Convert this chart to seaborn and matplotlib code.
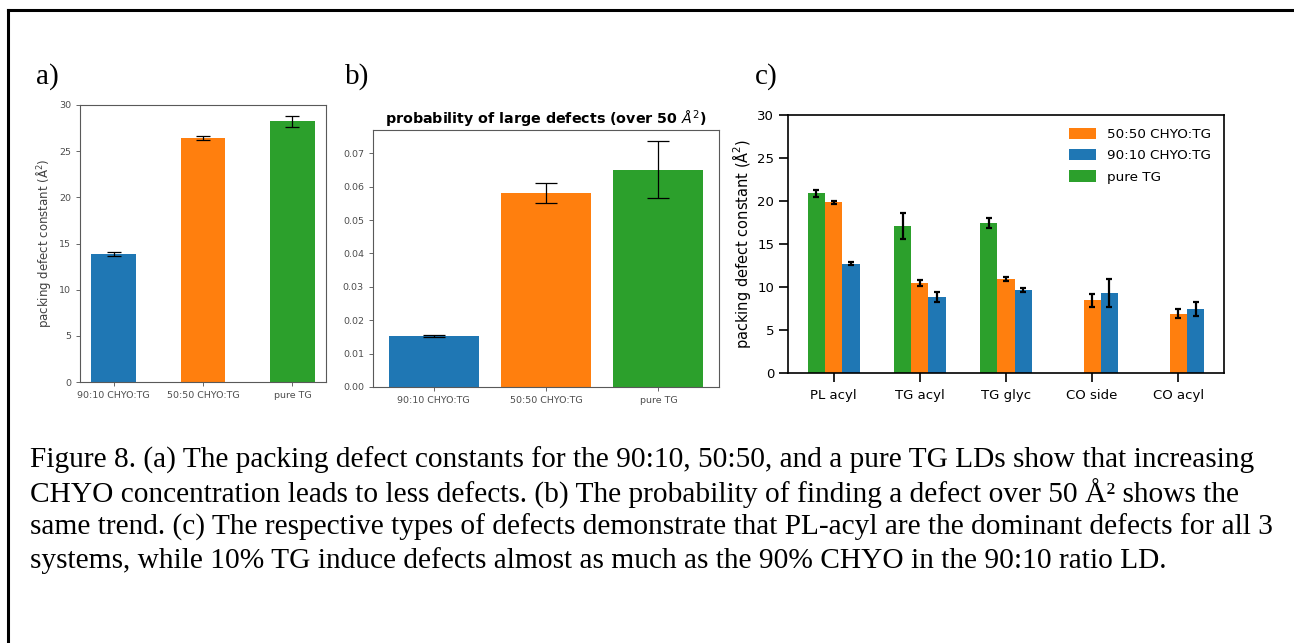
import numpy as np
import pandas as pd
import matplotlib
matplotlib.use("Agg")
import matplotlib.pyplot as plt
from matplotlib.lines import Line2D
import seaborn as sns

# ---------------- data ----------------
samples = ["90:10 CHYO:TG", "50:50 CHYO:TG", "pure TG"]
sample_colors = ["#1f77b4", "#ff7f0e", "#2ca02c"]

a_values = [13.85, 26.43, 28.22]
a_errors = [0.22, 0.22, 0.63]

b_values = [0.0153, 0.0580, 0.0651]
b_errors = [0.0003, 0.0030, 0.0085]

defect_types = ["PL acyl", "TG acyl", "TG glyc", "CO side", "CO acyl"]
pure_tg = [20.88, 17.07, 17.46, np.nan, np.nan]
pure_tg_err = [0.45, 1.50, 0.60, np.nan, np.nan]
ratio_5050 = [19.83, 10.52, 10.94, 8.46, 6.91]
ratio_5050_err = [0.20, 0.35, 0.25, 0.75, 0.50]
ratio_9010 = [12.73, 8.85, 9.62, 9.27, 7.41]
ratio_9010_err = [0.20, 0.55, 0.25, 1.65, 0.80]

c_hue_order = ["pure TG", "50:50 CHYO:TG", "90:10 CHYO:TG"]
c_colors = {"pure TG": "#2ca02c", "50:50 CHYO:TG": "#ff7f0e", "90:10 CHYO:TG": "#1f77b4"}
legend_order = ["50:50 CHYO:TG", "90:10 CHYO:TG", "pure TG"]

caption_lines = [
    "Figure 8. (a) The packing defect constants for the 90:10, 50:50, and a pure TG LDs show that increasing",
    "CHYO concentration leads to less defects. (b) The probability of finding a defect over 50 \u00c5\u00b2 shows the",
    "same trend. (c) The respective types of defects demonstrate that PL-acyl are the dominant defects for all 3",
    "systems, while 10% TG induce defects almost as much as the 90% CHYO in the 90:10 ratio LD.",
]

# ---------------- figure ----------------
W, H = 1294, 643
fig = plt.figure(figsize=(W / 100, H / 100), dpi=100)


def rect(x0, y0, x1, y1):
    return [x0 / W, 1 - y1 / H, (x1 - x0) / W, (y1 - y0) / H]


gray = "0.3"


def style_small(ax):
    for s in ax.spines.values():
        s.set_color("0.35")
        s.set_linewidth(0.8)
    ax.tick_params(colors=gray, labelsize=6.8, length=3, width=0.6)


# ---- panel a ----
ax_a = fig.add_axes(rect(80, 105, 326, 382))
df_a = pd.DataFrame({"sample": samples, "value": a_values})
sns.barplot(data=df_a, x="sample", y="value", hue="sample", palette=sample_colors,
            order=samples, hue_order=samples, legend=False, width=0.5,
            saturation=1, errorbar=None, ax=ax_a)
for cont, err in zip(ax_a.containers, a_errors):
    for bar in cont:
        ax_a.errorbar(bar.get_x() + bar.get_width() / 2, bar.get_height(), yerr=err,
                      fmt="none", ecolor="black", elinewidth=0.9, capsize=5, capthick=0.9)
ax_a.set_ylim(0, 30)
ax_a.set_yticks(np.arange(0, 31, 5))
ax_a.set_xlabel("")
ax_a.set_ylabel("packing defect constant (\u00c5$^2$)", fontsize=8.5, color="0.25")
style_small(ax_a)

# ---- panel b ----
ax_b = fig.add_axes(rect(373, 130, 719, 387))
df_b = pd.DataFrame({"sample": samples, "value": b_values})
sns.barplot(data=df_b, x="sample", y="value", hue="sample", palette=sample_colors,
            order=samples, hue_order=samples, legend=False, width=0.8,
            saturation=1, errorbar=None, ax=ax_b)
for cont, err in zip(ax_b.containers, b_errors):
    for bar in cont:
        ax_b.errorbar(bar.get_x() + bar.get_width() / 2, bar.get_height(), yerr=err,
                      fmt="none", ecolor="black", elinewidth=0.9, capsize=8, capthick=0.9)
ax_b.set_ylim(0, 0.077)
ax_b.set_yticks(np.arange(0, 0.071, 0.01))
ax_b.yaxis.set_major_formatter(matplotlib.ticker.FormatStrFormatter("%.2f"))
ax_b.set_xlabel("")
ax_b.set_ylabel("")
ax_b.set_title(r"probability of large defects (over 50 $\AA^2$)", fontsize=10.3,
               fontweight="bold", pad=4)
style_small(ax_b)

# ---- panel c ----
ax_c = fig.add_axes(rect(788, 115, 1224, 373))
rows = []
for hue_name, vals, errs in [("pure TG", pure_tg, pure_tg_err),
                             ("50:50 CHYO:TG", ratio_5050, ratio_5050_err),
                             ("90:10 CHYO:TG", ratio_9010, ratio_9010_err)]:
    for cat, v, e in zip(defect_types, vals, errs):
        if not np.isnan(v):
            rows.append({"type": cat, "system": hue_name, "value": v, "err": e})
df_c = pd.DataFrame(rows)
sns.barplot(data=df_c, x="type", y="value", hue="system", order=defect_types,
            hue_order=c_hue_order, palette=c_colors, width=0.6, saturation=1,
            errorbar=None, ax=ax_c)
err_lookup = {(r.system, r.type): r.err for r in df_c.itertuples()}
for hue_name, cont in zip(c_hue_order, ax_c.containers):
    for bar in cont:
        xc = bar.get_x() + bar.get_width() / 2
        cat = defect_types[int(round(xc))]
        ax_c.errorbar(xc, bar.get_height(), yerr=err_lookup[(hue_name, cat)],
                      fmt="none", ecolor="black", elinewidth=1.6, capsize=2.2, capthick=1.6)
ax_c.set_ylim(0, 30)
ax_c.set_yticks(np.arange(0, 31, 5))
ax_c.set_xlabel("")
ax_c.set_ylabel("packing defect constant (\u00c5$^2$)", fontsize=10.5, labelpad=3)
for s in ax_c.spines.values():
    s.set_color("black")
    s.set_linewidth(1.2)
ax_c.tick_params(labelsize=9.5, length=6.5, width=1.2, colors="black")
ax_c.tick_params(axis="x", pad=5)
handles, labels = ax_c.get_legend_handles_labels()
hmap = dict(zip(labels, handles))
ax_c.legend([hmap[l] for l in legend_order], legend_order, loc="upper right",
            frameon=False, fontsize=9.7, handlelength=2.0, handleheight=0.9,
            borderaxespad=0.55, labelspacing=0.6)

# ---- panel letters ----
for lab, x in [("a)", 36), ("b)", 345), ("c)", 755)]:
    fig.text(x / W, 1 - 77 / H, lab, family="Liberation Serif", fontsize=21,
             va="center", ha="left")

# ---- caption ----
for i, line in enumerate(caption_lines):
    fig.text(30 / W, 1 - (460 + i * 33.5) / H, line, family="Liberation Serif",
             fontsize=21.2, va="center", ha="left")

# ---- page border ----
fig.add_artist(Line2D([8 / W, 1.0], [1 - 10 / H, 1 - 10 / H], transform=fig.transFigure,
                      color="black", linewidth=2.2))
fig.add_artist(Line2D([8 / W, 8 / W], [1 - 10 / H, 0.0], transform=fig.transFigure,
                      color="black", linewidth=2.2))

fig.savefig("out.png", dpi=100, facecolor="white")
